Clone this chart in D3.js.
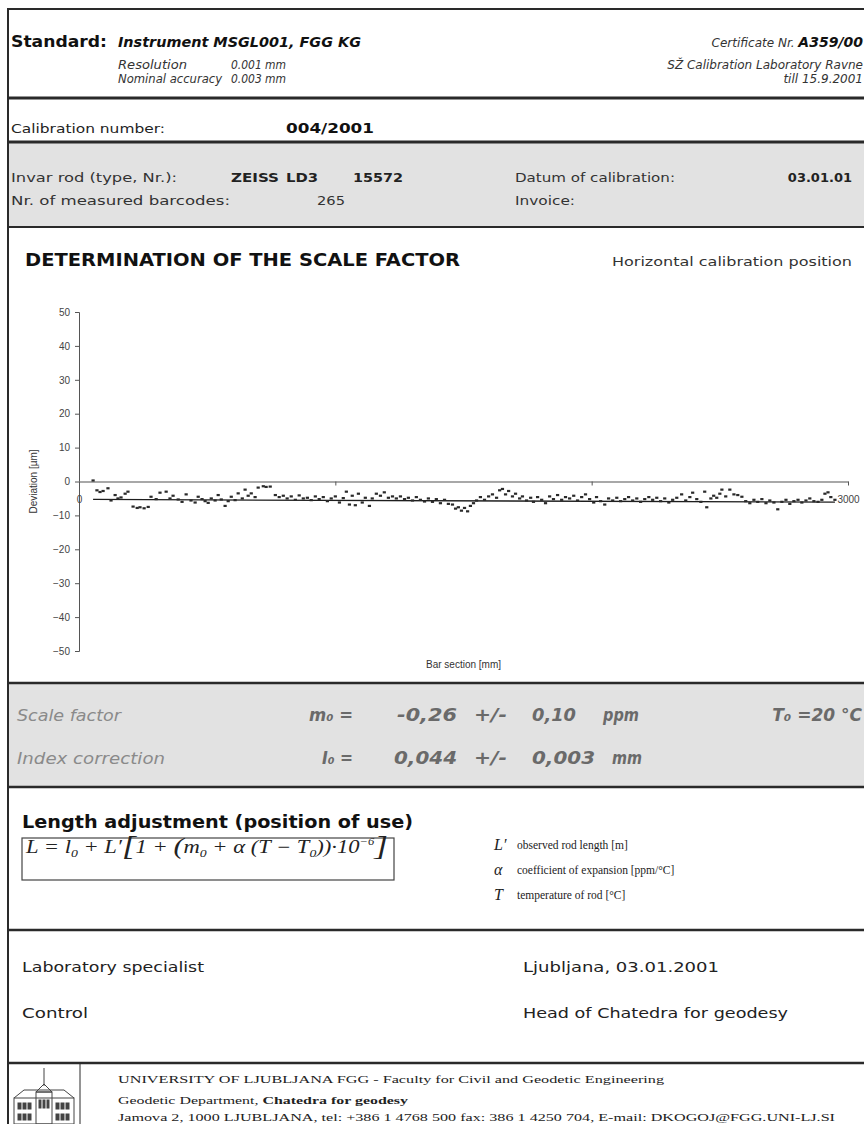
<!DOCTYPE html>
<html>
<head>
<meta charset="utf-8">
<script src="https://cdn.jsdelivr.net/npm/d3@7"></script>
<style>
  body { margin: 0; background: #fff; }
  svg { display: block; }
</style>
</head>
<body>
<div id="page"></div>
<script>
// Calibration certificate - scale factor chart

// Chart data
const barPos = [55,70,82,94,113,125,141,152,164,180,
  191,211,227,238,254,270,281,301,316,340,
  355,367,387,402,418,437,453,465,480,492,
  504,516,531,543,555,570,582,594,609,621,
  637,648,660,672,687,699,719,730,746,766,
  781,797,812,828,844,859,875,891,906,922,
  937,953,969,984,1000,1016,1031,1043,1055,1066,
  1078,1090,1105,1117,1133,1144,1160,1176,1191,1207,
  1223,1238,1254,1270,1285,1301,1316,1332,1348,1363,
  1379,1394,1410,1426,1441,1457,1469,1480,1492,1504,
  1516,1527,1539,1551,1566,1582,1598,1613,1629,1641,
  1652,1664,1676,1691,1703,1719,1730,1746,1762,1773,
  1789,1805,1820,1836,1851,1867,1883,1898,1914,1930,
  1945,1961,1976,1992,2008,2019,2035,2051,2066,2082,
  2098,2113,2129,2144,2160,2176,2191,2207,2223,2238,
  2254,2269,2285,2301,2316,2332,2351,2367,2383,2394,
  2410,2426,2441,2449,2465,2476,2488,2500,2508,2523,
  2539,2555,2570,2586,2601,2617,2633,2648,2664,2680,
  2695,2711,2726,2742,2758,2773,2789,2805,2820,2836,
  2851,2867,2883,2898,2910,2922,2933,2949];

const deviation = [0.3,-2.6,-3.1,-2.8,-2.0,-5.6,-4.0,-5.0,-4.7,-3.6,
  -3.0,-7.4,-7.8,-7.6,-7.9,-7.5,-4.5,-5.2,-3.3,-3.0,
  -5.0,-4.2,-5.3,-6.0,-3.8,-5.6,-6.2,-4.5,-5.2,-5.8,
  -6.3,-5.0,-5.6,-4.0,-5.3,-7.2,-5.8,-4.5,-5.5,-3.5,
  -5.0,-2.4,-4.2,-3.5,-4.6,-1.8,-1.4,-1.6,-1.5,-4.0,
  -4.6,-4.2,-5.0,-4.4,-5.4,-4.1,-5.0,-4.8,-5.5,-4.4,
  -5.2,-4.6,-5.8,-5.0,-4.4,-6.2,-4.9,-3.0,-6.8,-4.2,
  -7.0,-3.6,-6.2,-4.8,-7.2,-5.0,-3.6,-4.2,-3.2,-4.8,
  -4.4,-5.0,-4.4,-5.2,-4.8,-5.6,-4.6,-5.4,-5.9,-5.0,
  -6.0,-5.2,-6.4,-5.4,-6.6,-6.8,-8.0,-7.6,-8.6,-7.8,
  -8.8,-7.2,-6.4,-5.6,-4.6,-5.4,-4.4,-3.8,-4.8,-2.6,
  -2.2,-3.8,-2.8,-4.4,-3.6,-5.0,-4.4,-5.6,-4.8,-6.0,
  -4.6,-5.4,-6.4,-4.4,-5.2,-4.0,-5.4,-4.6,-5.0,-4.2,
  -5.6,-4.6,-3.8,-5.2,-6.2,-4.6,-5.8,-6.8,-5.0,-5.6,
  -4.8,-5.8,-5.2,-4.6,-5.6,-5.0,-6.0,-5.2,-4.6,-5.4,
  -4.8,-5.8,-5.0,-6.2,-5.4,-4.8,-3.8,-5.6,-4.6,-3.3,
  -5.2,-6.0,-3.0,-7.6,-5.0,-4.2,-4.8,-3.6,-2.4,-4.4,
  -2.4,-3.8,-4.0,-4.5,-5.8,-6.4,-5.4,-6.0,-5.2,-6.4,
  -5.6,-6.2,-8.2,-6.0,-5.4,-6.6,-5.8,-5.4,-6.2,-5.6,
  -5.0,-5.8,-6.0,-5.4,-3.6,-3.2,-4.6,-5.4];

// regression line end points (scale factor fit)
const fitPos = [55, 2949];
const fitDev = [-5.3, -6.1];

const yTicks = [-50, -40, -30, -20, -10, 0, 10, 20, 30, 40, 50];
const xTicks = [0, 1000, 2000, 3000];
const xTickLabels = ["0", "", "", "3000"];

const SANS = "'DejaVu Sans', Verdana, sans-serif";
const ARIAL = "'Liberation Sans', Arial, sans-serif";
const SERIF = "'Liberation Serif', 'Times New Roman', serif";

const W = 864, H = 1124;
const svg = d3.select("#page").append("svg")
    .attr("width", W).attr("height", H)
    .attr("viewBox", [0, 0, W, H]);

function label(x, y, str, o = {}) {
    const t = svg.append("text")
        .attr("x", x).attr("y", y)
        .attr("font-family", o.family || SANS)
        .attr("font-size", o.size || 13)
        .attr("font-weight", o.weight || "normal")
        .attr("font-style", o.style || "normal")
        .attr("fill", o.color || "#222")
        .attr("text-anchor", o.anchor || "start")
        .text(str);
    if (o.w) t.attr("textLength", o.w).attr("lengthAdjust", "spacingAndGlyphs");
    return t;
}

function hline(y, sw) {
    svg.append("line").attr("x1", 8).attr("x2", W).attr("y1", y).attr("y2", y)
        .attr("stroke", "#2a2a2a").attr("stroke-width", sw);
}

// Gray bands
svg.append("rect").attr("x", 8).attr("y", 143).attr("width", W - 8).attr("height", 84).attr("fill", "#e2e2e2");
svg.append("rect").attr("x", 8).attr("y", 683).attr("width", W - 8).attr("height", 104).attr("fill", "#e2e2e2");

// Frame lines
[[9, 2], [98, 3], [142, 3], [227, 2], [683, 2.5], [787, 2.5], [930, 2.5], [1063, 2.5]].forEach(d => hline(d[0], d[1]));
svg.append("line").attr("x1", 8).attr("x2", 8).attr("y1", 8).attr("y2", H)
    .attr("stroke", "#2a2a2a").attr("stroke-width", 2);

// Header
const it = { size: 12, style: "italic", color: "#333" };
label(11, 47, "Standard:", { size: 15, weight: "bold", color: "#111", w: 96 });
label(118, 47, "Instrument MSGL001, FGG KG", { size: 14, weight: "bold", style: "italic", color: "#111", w: 243 });
label(118, 69, "Resolution", Object.assign({ w: 69 }, it));
label(231, 69, "0.001 mm", Object.assign({ w: 55 }, it));
label(118, 83, "Nominal accuracy", Object.assign({ w: 104 }, it));
label(231, 83, "0.003 mm", Object.assign({ w: 55 }, it));
const cert = label(863, 47, "Certificate Nr. ", Object.assign({ anchor: "end" }, it));
cert.append("tspan").attr("font-weight", "bold").attr("font-size", 14).attr("fill", "#111").text("A359/00");
label(863, 69, "SŽ Calibration Laboratory Ravne", Object.assign({ anchor: "end" }, it));
label(863, 83, "till 15.9.2001", Object.assign({ anchor: "end" }, it));

label(11, 133, "Calibration number:", { size: 13, color: "#222", w: 154 });
label(286, 133, "004/2001", { size: 14, weight: "bold", color: "#111", w: 88 });

label(11, 182, "Invar rod (type, Nr.):", { size: 13, color: "#333", w: 166 });
label(231, 182, "ZEISS", { size: 13, weight: "bold", color: "#222", w: 48 });
label(286, 182, "LD3", { size: 13, weight: "bold", color: "#222", w: 32 });
label(353, 182, "15572", { size: 13, weight: "bold", color: "#222", w: 50 });
label(515, 182, "Datum of calibration:", { size: 13, color: "#333", w: 160 });
label(852, 182, "03.01.01", { size: 13, weight: "bold", color: "#222", anchor: "end" });
label(11, 205, "Nr. of measured barcodes:", { size: 13, color: "#333", w: 219 });
label(317, 205, "265", { size: 13, color: "#333", w: 28 });
label(515, 205, "Invoice:", { size: 13, color: "#333", w: 60 });

// Section title
label(25, 266, "DETERMINATION OF THE SCALE FACTOR", { size: 17, weight: "bold", color: "#111", w: 435 });
label(612, 266, "Horizontal calibration position", { size: 12.5, color: "#333", w: 240 });

// Chart
const x = d3.scaleLinear().domain([0, 3000]).range([79, 848]);
const y = d3.scaleLinear().domain([-50, 50]).range([651, 312]);

const yAxis = svg.append("g")
    .attr("transform", "translate(79,0)")
    .call(d3.axisLeft(y).tickValues(yTicks).tickSize(4).tickSizeOuter(4).tickPadding(5)
        .tickFormat(d3.format("d")));
yAxis.selectAll("text").attr("font-family", ARIAL).attr("font-size", 10).attr("fill", "#444");
yAxis.selectAll("line, path").attr("stroke", "#555");

const xAxis = svg.append("g")
    .attr("transform", `translate(0,${y(0)})`)
    .call(d3.axisBottom(x).tickValues(xTicks).tickSize(4).tickSizeOuter(0).tickPadding(10)
        .tickFormat((d, i) => xTickLabels[i]));
xAxis.select(".domain").attr("stroke", "#a8a8a8").attr("stroke-width", 2.2);
xAxis.selectAll(".tick line").attr("stroke", "#555");
xAxis.selectAll("text").attr("font-family", ARIAL).attr("font-size", 10).attr("fill", "#444");

svg.append("text")
    .attr("transform", `translate(37,${y(0)}) rotate(-90)`)
    .attr("text-anchor", "middle")
    .attr("font-family", ARIAL).attr("font-size", 10).attr("fill", "#333")
    .text("Deviation [µm]");
svg.append("text")
    .attr("x", (x.range()[0] + x.range()[1]) / 2).attr("y", 668).attr("text-anchor", "middle")
    .attr("font-family", ARIAL).attr("font-size", 10).attr("fill", "#333")
    .text("Bar section [mm]");

// regression line
svg.append("path")
    .datum(d3.zip(fitPos, fitDev))
    .attr("d", d3.line().x(d => x(d[0])).y(d => y(d[1])))
    .attr("stroke", "#1e1e1e").attr("stroke-width", 1.3).attr("fill", "none");

// measured points
svg.append("g").selectAll("rect")
    .data(d3.zip(barPos, deviation))
    .join("rect")
    .attr("x", d => x(d[0]) - 1.6)
    .attr("y", d => y(d[1]) - 1.1)
    .attr("width", 3.2).attr("height", 2.2)
    .attr("fill", "#2a2a2a");

// Scale factor results
const g1 = { size: 15, style: "italic", color: "#8a8a8a" };
const v1 = { size: 17, weight: "bold", style: "italic", color: "#6a6a6a" };
label(17, 721, "Scale factor", Object.assign({ w: 104 }, g1));
label(309, 721, "m₀ =", Object.assign({}, v1, { w: 44 }));
label(397, 721, "-0,26", Object.assign({}, v1, { w: 60 }));
label(474, 721, "+/-", Object.assign({}, v1, { w: 33 }));
label(532, 721, "0,10", Object.assign({}, v1, { w: 44 }));
label(603, 721, "ppm", Object.assign({}, v1, { w: 36 }));
label(862, 721, "T₀ =20 °C", Object.assign({}, v1, { anchor: "end" }));
label(17, 764, "Index correction", Object.assign({ w: 148 }, g1));
label(322, 764, "I₀ =", Object.assign({}, v1, { w: 31 }));
label(394, 764, "0,044", Object.assign({}, v1, { w: 63 }));
label(474, 764, "+/-", Object.assign({}, v1, { w: 33 }));
label(532, 764, "0,003", Object.assign({}, v1, { w: 63 }));
label(612, 764, "mm", Object.assign({}, v1, { w: 30 }));

// Length adjustment
label(22, 828, "Length adjustment (position of use)", { size: 18, weight: "bold", color: "#111", w: 391 });
svg.append("rect").attr("x", 22).attr("y", 838).attr("width", 372).attr("height", 42)
    .attr("fill", "none").attr("stroke", "#444").attr("stroke-width", 1.2);

const f = svg.append("text").attr("x", 26).attr("y", 853)
    .attr("font-family", SERIF).attr("font-size", 18).attr("font-style", "italic").attr("fill", "#222")
    .attr("textLength", 362).attr("lengthAdjust", "spacingAndGlyphs");
[
    ["L = l", 18, 0], ["0", 11, 4], [" + L′", 18, -4], ["[", 28, 2], ["1 + ", 18, -2], ["(", 24, 1],
    ["m", 18, -1], ["0", 11, 4], [" + α (T − T", 18, -4], ["0", 11, 4], ["))", 18, -4], ["·10", 18, 0],
    ["−6", 10, -8], ["]", 28, 10]
].forEach(p => f.append("tspan").attr("font-size", p[1]).attr("dy", p[2]).text(p[0]));

const legendRows = [["L′", "observed rod length [m]", 850], ["α", "coefficient of expansion [ppm/°C]", 875], ["T", "temperature of rod [°C]", 900]];
legendRows.forEach(r => {
    label(494, r[2], r[0], { family: SERIF, size: 16, style: "italic", color: "#222" });
    label(517, r[2] - 1, r[1], { family: SERIF, size: 11.5, color: "#222" });
});

// Signatures
label(22, 972, "Laboratory specialist", { size: 14.5, color: "#222", w: 182 });
label(523, 972, "Ljubljana, 03.01.2001", { size: 14.5, color: "#222", w: 196 });
label(22, 1018, "Control", { size: 14.5, color: "#222", w: 66 });
label(523, 1018, "Head of Chatedra for geodesy", { size: 14.5, color: "#222", w: 265 });

// Footer
svg.append("line").attr("x1", 80).attr("x2", 80).attr("y1", 1063).attr("y2", H)
    .attr("stroke", "#2a2a2a").attr("stroke-width", 1);
label(118, 1083, "UNIVERSITY OF LJUBLJANA  FGG - Faculty for Civil and Geodetic Engineering", { family: SERIF, size: 11, color: "#222", w: 546 });
const l2 = label(118, 1104, "Geodetic Department, ", { family: SERIF, size: 11, color: "#222" });
l2.append("tspan").attr("font-weight", "bold").text("Chatedra for geodesy");
l2.attr("textLength", 290).attr("lengthAdjust", "spacingAndGlyphs");
label(118, 1121, "Jamova 2, 1000 LJUBLJANA, tel: +386 1 4768 500   fax: 386 1 4250 704, E-mail: DKOGOJ@FGG.UNI-LJ.SI", { family: SERIF, size: 11, color: "#222", w: 717 });

// Faculty building logo
const logo = svg.append("g").attr("stroke", "#444").attr("fill", "none").attr("stroke-width", 1);
logo.append("line").attr("x1", 44).attr("x2", 44).attr("y1", 1068).attr("y2", 1086);
logo.append("path").attr("d", "M36,1092 L44,1084 L52,1092 Z");
logo.append("path").attr("d", "M14,1098 L24,1090 L64,1090 L74,1098");
logo.append("rect").attr("x", 14).attr("y", 1098).attr("width", 60).attr("height", 26);
logo.append("rect").attr("x", 36).attr("y", 1092).attr("width", 16).attr("height", 32);
[18, 23, 28, 56, 61, 66].forEach(wx => {
    logo.append("rect").attr("x", wx).attr("y", 1103).attr("width", 3).attr("height", 6).attr("fill", "#444");
    logo.append("rect").attr("x", wx).attr("y", 1114).attr("width", 3).attr("height", 6).attr("fill", "#444");
});
[39, 43, 47].forEach(wx => {
    logo.append("rect").attr("x", wx).attr("y", 1100).attr("width", 2).attr("height", 8).attr("fill", "#444");
});
</script>
</body>
</html>
